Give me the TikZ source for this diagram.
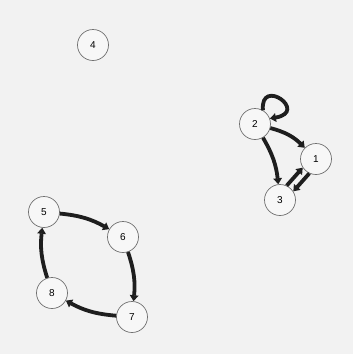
\documentclass[tikz,border=0pt]{standalone}
\usepackage{fontspec}
\setmainfont{Liberation Sans}
\usetikzlibrary{arrows.meta}
\definecolor{bg}{HTML}{F2F2F2}
\definecolor{nodeline}{HTML}{707070}
\definecolor{edgecol}{HTML}{1E1E1E}
\tikzset{
  vert/.style={circle, draw=nodeline, line width=0.7pt, fill=bg!60!white, minimum size=31pt, inner sep=0pt, font=\fontsize{10}{12}\selectfont},
  edge/.style={draw=edgecol, line width=3.8pt, -{Triangle[length=6pt,width=8.5pt]}, shorten >=0pt},
}
\begin{document}
\begin{tikzpicture}[x=1pt,y=-1pt]
\fill[bg] (0,0) rectangle (353,354);
\useasboundingbox (0,0) rectangle (353,354);
\node[vert] (n4) at (93,45) {4};
\node[vert] (n2) at (255,124) {2};
\node[vert] (n1) at (316,159) {1};
\node[vert] (n3) at (280,200) {3};
\node[vert] (n5) at (44,212) {5};
\node[vert] (n6) at (123,237) {6};
\node[vert] (n7) at (132,317) {7};
\node[vert] (n8) at (52,293) {8};
\draw[edge] (n2) to[bend left=15] (n1);
\draw[edge] (n2) to[bend left=12] (n3);
\draw[edge] (n1.245) -- (n3.33);
\draw[edge] (n3.65) -- (n1.213);
\draw[edge] (n2.60) .. controls +(-95:34) and +(-10:40) .. (n2.20);
\draw[edge] (n5) to[bend left=12] (n6);
\draw[edge] (n6) to[bend left=12] (n7);
\draw[edge] (n7) to[bend left=12] (n8);
\draw[edge] (n8) to[bend left=12] (n5);
\end{tikzpicture}
\end{document}
